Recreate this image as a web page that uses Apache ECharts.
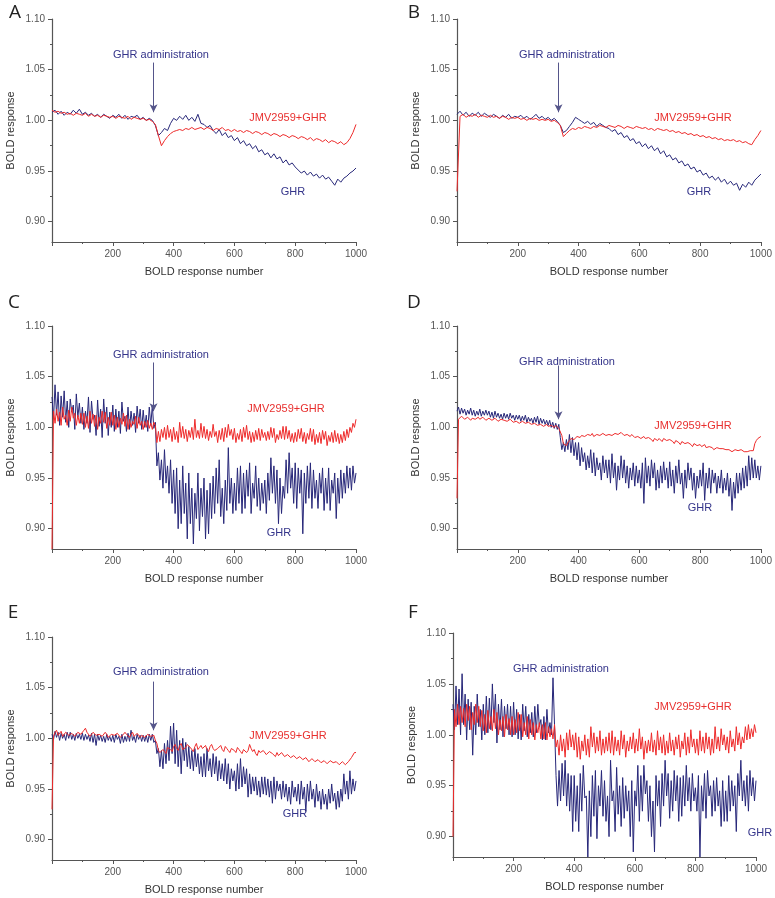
<!DOCTYPE html>
<html>
<head>
<meta charset="utf-8">
<script src="https://cdn.jsdelivr.net/npm/echarts@6/dist/echarts.min.js"></script>
<style>
html,body{margin:0;padding:0;background:#fff;}
#main{width:775px;height:898px;}
</style>
</head>
<body>
<div id="main"></div>
<script>
// BOLD response; panels A,B: one value every 10 samples, C-F: every 5 samples
var ghrA = [1.008,1.010,1.006,1.009,1.005,1.008,1.006,1.010,1.007,1.011,
	1.006,1.008,1.005,1.007,1.004,1.006,1.003,1.006,1.004,1.002,
	1.005,1.003,1.006,1.002,1.005,1.001,1.004,1.003,1.005,1.001,
	1.003,1.000,1.002,1.000,0.995,0.985,0.988,0.992,0.990,0.997,
	1.002,1.000,1.004,1.001,1.005,1.000,1.003,0.999,1.006,0.997,
	0.996,0.993,0.995,0.990,0.987,0.991,0.985,0.988,0.983,0.985,
	0.980,0.983,0.977,0.980,0.975,0.977,0.972,0.975,0.969,0.971,
	0.966,0.968,0.963,0.967,0.962,0.964,0.958,0.961,0.956,0.958,
	0.954,0.951,0.948,0.950,0.946,0.949,0.945,0.947,0.943,0.946,
	0.942,0.944,0.940,0.936,0.942,0.939,0.943,0.945,0.948,0.950,
	0.953];
var jmvA = [1.010,1.008,1.009,1.007,1.008,1.006,1.007,1.005,1.007,1.006,
	1.005,1.007,1.004,1.006,1.004,1.005,1.003,1.005,1.004,1.003,
	1.004,1.002,1.004,1.003,1.002,1.004,1.001,1.003,1.002,1.001,
	1.002,1.000,1.001,0.999,0.996,0.985,0.975,0.980,0.984,0.987,
	0.989,0.990,0.991,0.990,0.992,0.991,0.993,0.991,0.992,0.993,
	0.991,0.993,0.992,0.990,0.992,0.991,0.993,0.990,0.991,0.989,
	0.991,0.989,0.990,0.988,0.990,0.989,0.987,0.989,0.988,0.986,
	0.988,0.987,0.985,0.987,0.986,0.984,0.986,0.985,0.983,0.985,
	0.984,0.982,0.984,0.983,0.981,0.983,0.980,0.982,0.981,0.979,
	0.981,0.978,0.980,0.979,0.977,0.979,0.976,0.978,0.982,0.988,
	0.996];
var ghrB = [1.006,1.009,1.005,1.008,1.004,1.007,1.005,1.008,1.004,1.007,
	1.005,1.003,1.006,1.004,1.002,1.005,1.003,1.006,1.002,1.004,
	1.003,1.005,1.002,1.004,1.001,1.003,1.006,1.002,1.004,1.001,
	1.003,1.000,1.002,0.999,0.995,0.988,0.990,0.994,0.998,1.003,
	1.001,0.999,0.997,0.999,0.996,0.998,0.994,0.997,0.995,0.993,
	0.992,0.989,0.991,0.986,0.988,0.983,0.985,0.980,0.982,0.977,
	0.979,0.974,0.977,0.972,0.975,0.970,0.973,0.967,0.970,0.964,
	0.966,0.961,0.963,0.958,0.960,0.955,0.957,0.952,0.954,0.949,
	0.951,0.946,0.948,0.943,0.945,0.941,0.944,0.939,0.942,0.937,
	0.940,0.936,0.938,0.931,0.937,0.934,0.939,0.936,0.941,0.944,
	0.947];
var jmvB = [0.930,1.004,1.006,1.003,1.005,1.004,1.006,1.003,1.005,1.004,
	1.003,1.005,1.003,1.004,1.002,1.004,1.003,1.001,1.003,1.002,
	1.003,1.001,1.002,1.000,1.002,1.001,1.002,1.000,1.001,1.000,
	1.001,0.999,1.000,0.998,0.995,0.984,0.987,0.990,0.992,0.991,
	0.993,0.992,0.994,0.993,0.992,0.994,0.993,0.995,0.994,0.993,
	0.995,0.994,0.993,0.995,0.994,0.992,0.994,0.993,0.992,0.994,
	0.993,0.992,0.993,0.991,0.992,0.990,0.992,0.991,0.990,0.991,
	0.989,0.990,0.988,0.989,0.987,0.988,0.986,0.987,0.985,0.986,
	0.984,0.985,0.983,0.984,0.982,0.983,0.981,0.982,0.980,0.981,
	0.980,0.981,0.979,0.980,0.978,0.979,0.977,0.976,0.981,0.985,
	0.990];
var ghrC = [1.030,1.008,1.042,1.012,1.035,1.002,1.031,1.010,1.036,1.005,1.026,1.000,1.028,1.015,1.022,0.998,1.033,1.010,1.024,1.004,
	1.020,0.998,1.016,1.004,1.030,0.995,1.026,1.008,1.012,0.992,1.027,1.001,1.018,0.990,1.028,1.004,1.020,0.992,1.015,1.000,
	1.022,0.996,1.018,1.000,1.016,0.994,1.025,1.006,1.011,0.996,1.020,0.998,1.016,1.002,1.014,0.995,1.021,1.004,1.018,0.998,
	1.017,1.000,1.012,0.996,1.020,1.002,1.022,0.999,1.005,0.962,0.975,0.948,0.968,0.940,0.978,0.945,0.962,0.935,0.968,0.925,
	0.958,0.915,0.960,0.900,0.948,0.905,0.962,0.915,0.945,0.890,0.955,0.905,0.940,0.885,0.935,0.910,0.955,0.898,0.940,0.912,
	0.950,0.890,0.938,0.895,0.945,0.910,0.952,0.915,0.960,0.925,0.968,0.912,0.940,0.905,0.948,0.918,0.980,0.925,0.950,0.915,
	0.945,0.918,0.960,0.925,0.962,0.915,0.955,0.920,0.958,0.932,0.965,0.915,0.945,0.930,0.962,0.922,0.950,0.918,0.945,0.925,
	0.948,0.915,0.955,0.928,0.970,0.935,0.962,0.925,0.958,0.905,0.950,0.915,0.942,0.930,0.968,0.935,0.975,0.940,0.960,0.925,
	0.965,0.920,0.960,0.935,0.958,0.895,0.955,0.925,0.962,0.930,0.965,0.920,0.958,0.930,0.948,0.920,0.955,0.935,0.960,0.918,
	0.950,0.925,0.960,0.918,0.948,0.935,0.955,0.910,0.950,0.925,0.958,0.930,0.955,0.935,0.962,0.940,0.960,0.938,0.962,0.945,
	0.955];
var jmvC = [0.880,1.016,1.004,1.018,1.006,1.015,1.002,1.020,1.008,1.012,1.002,1.017,1.006,1.020,1.009,1.014,1.002,1.012,1.004,1.014,
	1.003,1.014,1.000,1.011,0.999,1.016,1.004,1.013,1.001,1.012,0.998,1.010,1.004,1.016,1.005,1.015,0.999,1.010,1.002,1.015,
	1.002,1.012,0.998,1.010,1.000,1.009,1.003,1.014,1.001,1.012,0.998,1.008,1.000,1.006,1.003,1.011,0.999,1.010,1.002,1.006,
	0.998,1.006,1.000,1.007,0.999,1.004,0.998,1.005,1.002,0.985,0.996,0.986,0.998,0.990,1.000,0.988,1.002,0.990,0.998,0.986,
	1.000,0.988,0.996,0.985,1.005,0.990,1.001,0.989,0.998,0.986,0.997,0.990,1.000,0.988,1.008,0.990,0.997,0.989,1.004,0.990,
	1.001,0.989,0.998,0.987,0.996,0.990,1.003,0.991,0.996,0.985,0.997,0.988,0.999,0.986,1.000,0.990,1.003,0.992,0.998,0.988,
	0.999,0.985,0.994,0.988,0.998,0.986,1.000,0.990,1.002,0.988,0.996,0.985,0.995,0.986,0.997,0.988,0.999,0.987,0.998,0.990,
	0.995,0.987,0.996,0.988,1.000,0.990,0.999,0.985,0.993,0.988,0.997,0.989,1.001,0.988,1.001,0.989,0.997,0.986,0.994,0.985,
	0.995,0.986,0.998,0.989,0.999,0.986,0.995,0.984,0.994,0.988,0.999,0.986,0.998,0.983,0.993,0.985,0.995,0.984,0.997,0.988,
	0.996,0.982,0.992,0.986,0.995,0.985,0.997,0.986,0.994,0.984,0.993,0.985,0.996,0.987,0.998,0.990,1.000,0.995,1.004,1.000,
	1.008];
var ghrD = [1.016,1.020,1.013,1.019,1.014,1.018,1.012,1.017,1.013,1.019,1.012,1.017,1.011,1.016,1.012,1.018,1.011,1.016,1.012,1.017,
	1.012,1.016,1.010,1.015,1.009,1.016,1.010,1.014,1.009,1.013,1.008,1.014,1.009,1.013,1.008,1.014,1.009,1.012,1.007,1.012,
	1.008,1.012,1.006,1.011,1.007,1.012,1.005,1.010,1.006,1.009,1.004,1.010,1.005,1.011,1.003,1.009,1.004,1.008,1.003,1.007,
	1.002,1.007,1.000,1.005,0.999,1.004,0.998,1.003,0.990,0.978,0.985,0.976,0.988,0.978,0.993,0.975,0.990,0.972,0.985,0.968,
	0.985,0.962,0.980,0.966,0.975,0.958,0.972,0.960,0.978,0.955,0.975,0.952,0.970,0.958,0.965,0.948,0.972,0.955,0.968,0.950,
	0.968,0.945,0.974,0.950,0.965,0.938,0.962,0.948,0.972,0.950,0.968,0.945,0.962,0.940,0.960,0.948,0.965,0.942,0.962,0.945,
	0.958,0.940,0.965,0.925,0.970,0.945,0.962,0.942,0.968,0.950,0.965,0.938,0.958,0.940,0.962,0.945,0.966,0.948,0.960,0.940,
	0.966,0.942,0.958,0.935,0.962,0.945,0.968,0.944,0.955,0.930,0.958,0.940,0.965,0.948,0.960,0.938,0.955,0.930,0.952,0.940,
	0.958,0.942,0.965,0.928,0.955,0.940,0.960,0.935,0.958,0.945,0.955,0.935,0.952,0.940,0.958,0.935,0.950,0.938,0.955,0.932,
	0.950,0.918,0.946,0.930,0.955,0.935,0.955,0.938,0.960,0.940,0.962,0.942,0.972,0.948,0.970,0.950,0.968,0.950,0.962,0.948,
	0.962];
var jmvD = [0.930,1.008,1.009,1.011,1.010,1.008,1.008,1.010,1.010,1.007,1.009,1.010,1.008,1.009,1.010,1.008,1.008,1.010,1.009,1.007,
	1.008,1.009,1.009,1.007,1.007,1.009,1.008,1.006,1.006,1.008,1.008,1.007,1.007,1.006,1.006,1.008,1.007,1.005,1.005,1.006,
	1.006,1.004,1.005,1.006,1.006,1.004,1.004,1.005,1.005,1.003,1.003,1.004,1.004,1.002,1.002,1.003,1.003,1.001,1.002,1.003,
	1.001,1.000,1.002,1.001,1.000,1.002,1.001,0.999,0.998,0.992,0.984,0.983,0.982,0.985,0.987,0.989,0.990,0.988,0.989,0.991,
	0.991,0.990,0.992,0.993,0.991,0.990,0.993,0.992,0.992,0.994,0.991,0.990,0.993,0.994,0.992,0.991,0.994,0.995,0.992,0.991,
	0.993,0.994,0.992,0.991,0.994,0.995,0.993,0.992,0.995,0.996,0.992,0.991,0.993,0.992,0.991,0.993,0.992,0.990,0.990,0.991,
	0.991,0.989,0.990,0.991,0.989,0.988,0.990,0.989,0.988,0.986,0.989,0.988,0.987,0.989,0.988,0.986,0.989,0.990,0.987,0.986,
	0.988,0.987,0.986,0.984,0.987,0.986,0.985,0.983,0.986,0.987,0.984,0.983,0.985,0.984,0.983,0.981,0.984,0.985,0.982,0.981,
	0.983,0.981,0.982,0.983,0.980,0.979,0.981,0.982,0.980,0.978,0.979,0.980,0.981,0.979,0.978,0.979,0.980,0.978,0.977,0.978,
	0.978,0.976,0.977,0.978,0.979,0.977,0.976,0.978,0.978,0.976,0.977,0.976,0.976,0.977,0.978,0.977,0.984,0.987,0.989,0.988,
	0.991];
var ghrE = [1.004,0.999,1.007,1.001,1.006,0.998,1.005,1.000,1.004,0.998,1.006,1.000,1.006,0.999,1.004,0.998,1.005,1.000,1.004,0.999,
	1.005,0.998,1.004,0.999,1.003,0.997,1.005,0.996,1.004,0.993,1.004,0.998,1.003,0.997,1.002,0.996,1.004,0.998,1.002,0.997,
	1.003,0.996,1.004,0.999,1.002,0.995,1.004,0.996,1.002,0.997,1.005,0.997,1.008,0.998,1.002,0.996,1.004,0.999,1.003,0.997,
	1.003,0.997,1.003,0.996,1.004,0.998,1.004,0.996,0.998,0.985,0.990,0.972,0.988,0.970,0.995,0.975,0.998,0.978,1.012,0.985,
	1.015,0.975,1.008,0.972,0.998,0.965,1.000,0.978,0.996,0.972,0.992,0.970,0.988,0.968,0.990,0.972,0.985,0.965,0.982,0.962,
	0.985,0.962,0.990,0.968,0.980,0.962,0.985,0.965,0.982,0.958,0.978,0.960,0.975,0.958,0.980,0.955,0.975,0.950,0.970,0.958,
	0.968,0.948,0.975,0.950,0.980,0.952,0.972,0.955,0.970,0.942,0.965,0.945,0.962,0.948,0.962,0.944,0.958,0.942,0.962,0.945,
	0.962,0.944,0.960,0.942,0.958,0.936,0.962,0.940,0.958,0.948,0.955,0.940,0.958,0.942,0.955,0.938,0.952,0.935,0.958,0.942,
	0.952,0.938,0.955,0.935,0.958,0.940,0.952,0.928,0.955,0.938,0.958,0.940,0.950,0.932,0.955,0.938,0.948,0.930,0.950,0.935,
	0.945,0.930,0.950,0.936,0.955,0.938,0.946,0.930,0.948,0.932,0.950,0.938,0.965,0.945,0.958,0.940,0.968,0.945,0.960,0.948,
	0.958];
var jmvE = [0.930,1.002,1.006,1.008,1.003,1.004,1.007,1.002,1.004,1.006,1.006,1.003,1.002,1.005,1.005,1.002,1.003,1.006,1.006,1.004,
	1.004,1.008,1.010,1.006,1.005,1.002,1.003,1.006,1.006,1.003,1.002,1.004,1.005,1.002,1.003,1.006,1.004,1.001,1.001,1.004,
	1.005,1.003,1.002,1.005,1.004,1.001,1.001,1.004,1.006,1.004,1.003,1.001,1.004,1.006,1.002,1.001,1.005,1.003,1.001,1.003,
	1.004,1.001,1.002,1.004,1.004,1.002,1.001,1.003,0.998,0.995,0.988,0.986,0.985,0.989,0.988,0.985,0.991,0.992,0.989,0.987,
	0.992,0.994,0.990,0.988,0.993,0.995,0.989,0.990,0.991,0.994,0.994,0.991,0.990,0.987,0.992,0.995,0.989,0.991,0.993,0.990,
	0.991,0.993,0.989,0.987,0.992,0.994,0.990,0.988,0.988,0.990,0.991,0.993,0.989,0.987,0.992,0.990,0.988,0.986,0.990,0.991,
	0.988,0.986,0.991,0.989,0.987,0.985,0.989,0.990,0.986,0.988,0.994,0.990,0.987,0.989,0.985,0.983,0.988,0.986,0.986,0.988,
	0.987,0.984,0.985,0.987,0.988,0.985,0.984,0.982,0.986,0.983,0.983,0.986,0.985,0.982,0.982,0.984,0.984,0.981,0.981,0.983,
	0.983,0.980,0.980,0.982,0.982,0.979,0.979,0.981,0.981,0.977,0.978,0.980,0.980,0.977,0.977,0.979,0.979,0.976,0.976,0.978,
	0.978,0.975,0.976,0.978,0.979,0.976,0.975,0.977,0.977,0.974,0.974,0.977,0.976,0.974,0.975,0.977,0.978,0.981,0.982,0.986,
	0.986];
var ghrF = [1.030,1.005,1.048,1.010,1.045,1.000,1.060,1.010,1.040,0.995,1.035,1.005,1.032,0.980,1.028,1.000,1.040,1.008,1.025,0.995,
	1.030,1.000,1.038,1.002,1.036,1.005,1.050,1.012,1.040,0.992,1.030,1.005,1.035,0.998,1.028,1.006,1.030,1.000,1.028,0.998,
	1.032,1.000,1.025,0.996,1.020,0.995,1.030,1.004,1.028,0.998,1.020,1.002,1.022,0.998,1.028,1.002,1.030,1.008,1.015,0.995,
	1.018,0.995,1.025,1.002,1.012,1.000,1.056,1.010,0.960,0.930,0.965,0.935,0.972,0.940,0.975,0.930,0.962,0.925,0.960,0.905,
	0.960,0.915,0.950,0.905,0.962,0.925,0.970,0.938,0.940,0.880,0.945,0.900,0.960,0.920,0.965,0.898,0.950,0.930,0.965,0.920,
	0.955,0.915,0.940,0.900,0.975,0.935,0.945,0.905,0.968,0.922,0.950,0.910,0.958,0.918,0.950,0.925,0.945,0.900,0.955,0.885,
	0.945,0.930,0.970,0.915,0.960,0.925,0.970,0.942,0.955,0.915,0.950,0.900,0.935,0.885,0.960,0.930,0.955,0.910,0.962,0.930,
	0.975,0.940,0.962,0.918,0.955,0.925,0.965,0.935,0.960,0.915,0.958,0.920,0.960,0.930,0.970,0.935,0.958,0.925,0.962,0.935,
	0.948,0.925,0.960,0.880,0.950,0.925,0.962,0.918,0.965,0.940,0.950,0.920,0.955,0.925,0.958,0.930,0.945,0.910,0.955,0.915,
	0.945,0.915,0.960,0.925,0.955,0.930,0.950,0.905,0.962,0.940,0.975,0.935,0.955,0.930,0.960,0.925,0.965,0.940,0.958,0.935,
	0.955];
var jmvF = [0.900,1.025,1.008,1.030,1.010,1.028,1.012,1.026,1.008,1.030,1.014,1.028,1.005,1.022,1.010,1.030,1.012,1.028,1.008,1.024,
	1.004,1.020,1.002,1.024,1.006,1.018,1.004,1.025,1.006,1.022,1.000,1.015,1.004,1.018,0.998,1.020,1.005,1.016,1.000,1.018,
	1.000,1.015,1.002,1.022,1.004,1.020,0.998,1.012,1.000,1.018,0.996,1.015,1.000,1.012,0.995,1.010,1.002,1.012,0.996,1.010,
	0.996,1.012,0.995,1.008,0.998,1.006,0.996,1.010,0.988,0.995,0.980,1.000,0.984,0.996,0.978,1.002,0.985,1.005,0.988,1.000,
	0.985,1.002,0.978,0.998,0.976,0.994,0.984,1.000,0.980,0.996,0.978,1.008,0.988,1.002,0.982,0.998,0.984,1.004,0.980,0.996,
	0.982,0.998,0.984,1.002,0.982,1.004,0.980,0.998,0.984,0.995,0.980,1.004,0.986,1.000,0.978,0.994,0.984,0.998,0.986,1.002,
	0.982,0.996,0.984,1.006,0.986,0.998,0.976,0.994,0.982,0.995,0.984,1.002,0.983,0.995,0.980,1.004,0.985,0.998,0.982,1.000,
	0.980,0.994,0.982,1.002,0.984,0.995,0.980,0.998,0.986,1.000,0.978,0.994,0.986,1.002,0.980,0.998,0.982,1.005,0.988,0.996,
	0.982,0.996,0.980,1.004,0.984,0.998,0.982,1.002,0.986,0.998,0.980,0.996,0.982,1.008,0.986,0.998,0.984,1.006,0.990,1.000,
	0.985,0.998,0.982,1.004,0.988,0.996,0.984,1.008,0.990,1.002,0.986,0.998,0.992,1.008,0.995,1.010,0.996,1.006,0.998,1.010,
	1.002];

var xTicks = [200, 400, 600, 800, 1000];
var yTicks = [0.90, 0.95, 1.00, 1.05, 1.10];
var yMinorTicks = [0.925, 0.975, 1.025, 1.075];
var letters = ['A', 'B', 'C', 'D', 'E', 'F'];
var injectionSample = 334;

var BLUE = '#272779', RED = '#ee2a2a', AXIS = '#555555';
var FONT = '"Liberation Sans", Arial, sans-serif';

/** panel layout (pixels) **/
var panels = [
	{ghr: ghrA, jmv: jmvA, step: 10, grid: {left: 52, top: 19, width: 304, height: 223},
	 letter: [15, 13], adm: [161, 55], arrow: [1.057, 1.008], jmvLab: [288, 118], ghrLab: [293, 192]},
	{ghr: ghrB, jmv: jmvB, step: 10, grid: {left: 457, top: 19, width: 305, height: 223},
	 letter: [414, 13], adm: [567, 55], arrow: [1.057, 1.008], jmvLab: [693, 118], ghrLab: [699, 192]},
	{ghr: ghrC, jmv: jmvC, step: 5, grid: {left: 52, top: 326, width: 304, height: 223},
	 letter: [14, 303], adm: [161, 355], arrow: [1.064, 1.016], jmvLab: [286, 409], ghrLab: [279, 533]},
	{ghr: ghrD, jmv: jmvD, step: 5, grid: {left: 457, top: 326, width: 305, height: 223},
	 letter: [414, 303], adm: [567, 362], arrow: [1.061, 1.008], jmvLab: [693, 426], ghrLab: [700, 508]},
	{ghr: ghrE, jmv: jmvE, step: 5, grid: {left: 52, top: 637, width: 304, height: 223},
	 letter: [13, 613], adm: [161, 672], arrow: [1.056, 1.008], jmvLab: [288, 736], ghrLab: [295, 814]},
	{ghr: ghrF, jmv: jmvF, step: 5, grid: {left: 453, top: 633, width: 303, height: 224},
	 letter: [413, 613], adm: [561, 669], arrow: null, jmvLab: [693, 707], ghrLab: [760, 833]}
];

function toPairs(values, step) {
	return values.map(function (v, i) { return [i * step, v]; });
}

var grids = [], xAxes = [], yAxes = [], series = [], graphics = [];

panels.forEach(function (p, i) {
	grids.push(p.grid);

	xAxes.push({
		gridIndex: i, type: 'value', min: 0, max: 1000, interval: 200,
		name: 'BOLD response number', nameLocation: 'middle', nameGap: 24,
		nameTextStyle: {color: '#333', fontSize: 11, fontFamily: FONT},
		axisLine: {lineStyle: {color: AXIS, width: 1.2}},
		axisTick: {length: 4, lineStyle: {color: AXIS}},
		minorTick: {show: true, splitNumber: 2, length: 2, lineStyle: {color: AXIS}},
		axisLabel: {color: '#555', fontSize: 10, fontFamily: FONT, margin: 7,
			formatter: function (v) { return xTicks.indexOf(v) >= 0 ? String(v) : ''; }},
		splitLine: {show: false}
	});

	yAxes.push({
		gridIndex: i, type: 'value', min: 0.88, max: 1.10, position: 'left',
		name: 'BOLD response', nameLocation: 'middle', nameGap: 36,
		nameTextStyle: {color: '#333', fontSize: 11, fontFamily: FONT},
		axisLine: {show: true, lineStyle: {color: AXIS, width: 1.2}},
		axisTick: {show: true, length: 4, customValues: yTicks, lineStyle: {color: AXIS}},
		axisLabel: {color: '#555', fontSize: 10, fontFamily: FONT, margin: 7, customValues: yTicks,
			formatter: function (v) { return v.toFixed(2); }},
		splitLine: {show: false}
	});
	// minor ticks on the y axis
	yAxes.push({
		gridIndex: i, type: 'value', min: 0.88, max: 1.10, position: 'left',
		axisLine: {show: false},
		axisTick: {show: true, length: 2, customValues: yMinorTicks, lineStyle: {color: AXIS}},
		axisLabel: {show: false},
		splitLine: {show: false}
	});

	var ghrSeries = {
		name: 'GHR', type: 'line', xAxisIndex: i, yAxisIndex: i * 2,
		data: toPairs(p.ghr, p.step), showSymbol: false, symbol: 'none',
		lineStyle: {color: BLUE, width: 1}, silent: true
	};
	if (p.arrow) {
		ghrSeries.markLine = {
			silent: true, symbol: ['none', 'arrow'], symbolSize: [6, 8],
			lineStyle: {color: '#55558a', width: 1, type: 'solid'},
			label: {show: false},
			data: [[{coord: [injectionSample, p.arrow[0]]}, {coord: [injectionSample, p.arrow[1]]}]]
		};
	}
	series.push(ghrSeries);
	series.push({
		name: 'JMV2959+GHR', type: 'line', xAxisIndex: i, yAxisIndex: i * 2,
		data: toPairs(p.jmv, p.step), showSymbol: false, symbol: 'none',
		lineStyle: {color: RED, width: 1}, silent: true
	});

	graphics.push({type: 'text', x: p.letter[0], y: p.letter[1], style: {
		text: letters[i], font: '19px "Open Sans", sans-serif', fill: '#222',
		textAlign: 'center', textVerticalAlign: 'middle'}});
	graphics.push({type: 'text', x: p.adm[0], y: p.adm[1], style: {
		text: 'GHR administration', font: '11px ' + FONT, fill: '#34348a',
		textAlign: 'center', textVerticalAlign: 'middle'}});
	graphics.push({type: 'text', x: p.jmvLab[0], y: p.jmvLab[1], style: {
		text: 'JMV2959+GHR', font: '11px ' + FONT, fill: '#e8302f',
		textAlign: 'center', textVerticalAlign: 'middle'}});
	graphics.push({type: 'text', x: p.ghrLab[0], y: p.ghrLab[1], style: {
		text: 'GHR', font: '11px ' + FONT, fill: '#34348a',
		textAlign: 'center', textVerticalAlign: 'middle'}});
});

var chart = echarts.init(document.getElementById('main'));
chart.setOption({
	backgroundColor: '#fff',
	animation: false,
	grid: grids,
	xAxis: xAxes,
	yAxis: yAxes,
	series: series,
	graphic: graphics
});
</script>
</body>
</html>
